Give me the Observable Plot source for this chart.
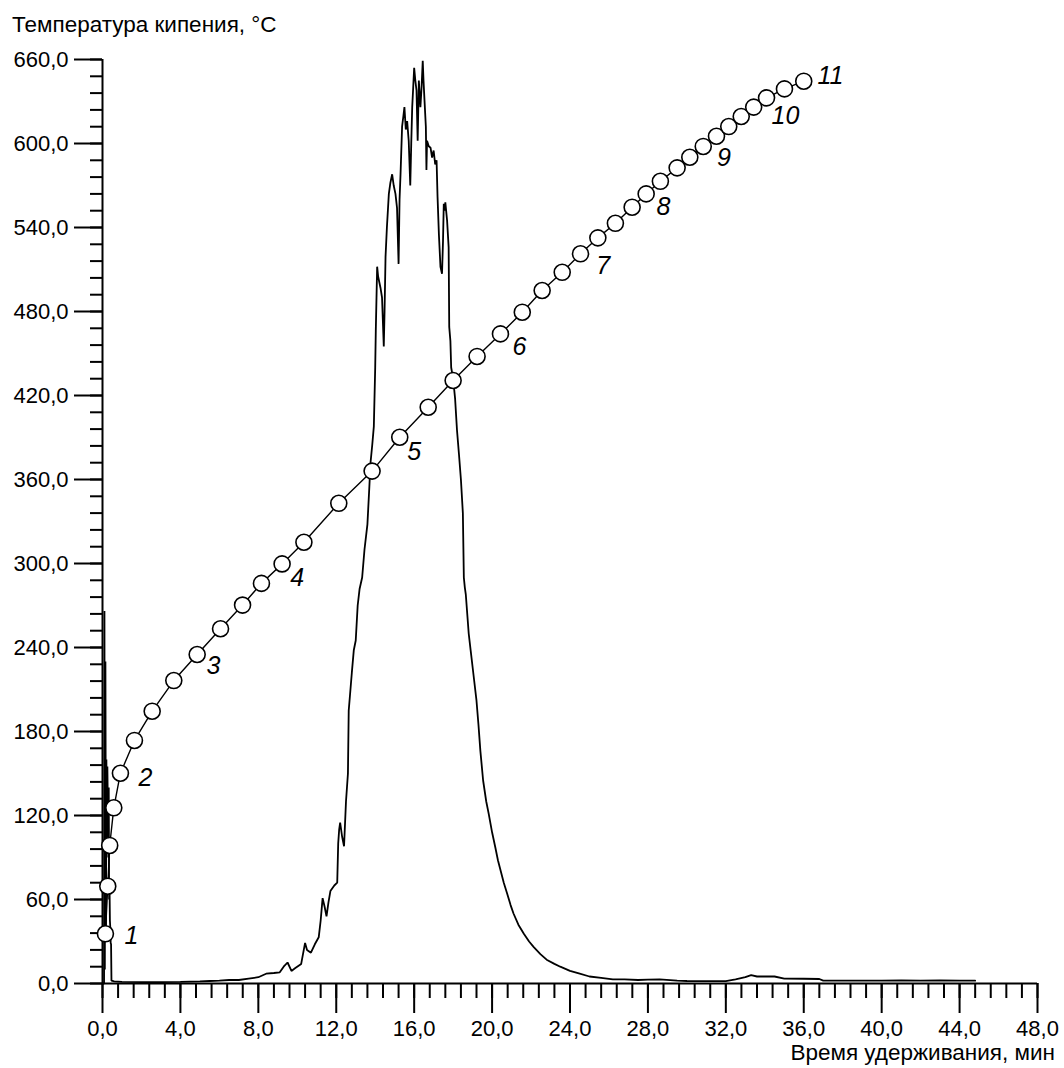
<!DOCTYPE html>
<html>
<head>
<meta charset="utf-8">
<script src="https://cdn.jsdelivr.net/npm/d3@7"></script>
<script src="https://cdn.jsdelivr.net/npm/@observablehq/plot@0.6"></script>
<style>
  html, body { margin: 0; padding: 0; background: #fff; overflow: hidden; }
  #wrap { position: relative; width: 1064px; height: 1068px; font-family: "Liberation Sans", Arial, sans-serif; color: #000; }
  #ytitle { position: absolute; left: 12px; top: 12px; font-size: 22.5px; white-space: nowrap; }
  #xtitle { position: absolute; right: 9px; top: 1040px; font-size: 22.5px; white-space: nowrap; }
  #chart { position: absolute; left: 0; top: 0; }
</style>
</head>
<body>
<div id="wrap">
  <div id="chart"></div>
  <div id="ytitle">Температура кипения, °C</div>
  <div id="xtitle">Время удерживания, мин</div>
</div>
<script>
// Tick labels
const xMajorTicks = [0, 4, 8, 12, 16, 20, 24, 28, 32, 36, 40, 44, 48];
const yMajorTicks = [0, 60, 120, 180, 240, 300, 360, 420, 480, 540, 600, 660];

// Boiling-point calibration curve (retention time, min ; boiling temperature, °C)
const curveTime = [0.15, 0.27, 0.37, 0.58, 0.92, 1.64, 2.55, 3.66, 4.86, 6.06, 7.19,
  8.16, 9.22, 10.34, 12.13, 13.84, 15.26, 16.72, 18.0, 19.23, 20.43, 21.55, 22.57,
  23.6, 24.54, 25.43, 26.33, 27.19, 27.91, 28.64, 29.5, 30.15, 30.84, 31.52, 32.15,
  32.79, 33.43, 34.09, 35.01, 36.0];
const curveTemp = [35.5, 69.5, 98.6, 125.5, 150.2, 173.6, 194.5, 216.4, 235, 253.4, 270.3,
  285.8, 299.7, 315.2, 343, 366, 390.2, 411.6, 430.7, 447.9, 464, 479.5, 495,
  508, 521.2, 532.6, 543, 554.5, 564, 573, 582.6, 590.2, 597.9, 605.2, 612.1,
  619.3, 626, 632.6, 639, 644.5];

// Fraction numbers
const labelText = ["1", "2", "3", "4", "5", "6", "7", "8", "9", "10", "11"];
const labelTime = [1.49, 2.21, 5.7, 10.0, 16.0, 21.4, 25.7, 28.8, 31.9, 35.06, 37.37];
const labelTemp = [34.2, 147, 227, 290, 379.6, 455, 512.3, 555, 589.6, 619.3, 647.9];

// Chromatogram trace (retention time, min ; detector signal on the same scale)
const chromTime = [0, 0.08, 0.1, 0.12, 0.15, 0.18, 0.2, 0.22, 0.25, 0.28, 0.3, 0.32, 0.34,
  0.36, 0.38, 0.4, 0.42, 0.44, 0.46, 0.6, 1, 2, 3, 4, 5, 5.5, 6, 6.5, 7, 7.5, 8, 8.4,
  8.8, 9.1, 9.3, 9.5, 9.7, 9.9, 10.2, 10.4, 10.5, 10.7, 10.9, 11.1, 11.2, 11.3, 11.4,
  11.5, 11.6, 11.7, 11.9, 12.05, 12.1, 12.15, 12.2, 12.3, 12.4, 12.5, 12.6, 12.64, 12.7,
  12.8, 12.9, 13.0, 13.1, 13.2, 13.33, 13.45, 13.6, 13.7, 13.76, 13.85, 13.93, 14.0, 14.03,
  14.1, 14.15, 14.27, 14.35, 14.44, 14.48, 14.53, 14.6, 14.7, 14.78, 14.87, 14.95,
  15.04, 15.12, 15.2, 15.25, 15.3, 15.38, 15.45, 15.5, 15.57, 15.64, 15.72, 15.8,
  15.85, 15.9, 15.95, 16.0, 16.06, 16.12, 16.18, 16.24, 16.32, 16.38, 16.44, 16.48,
  16.53, 16.6, 16.63, 16.66, 16.75, 16.84, 16.92, 17.0, 17.08, 17.15, 17.2, 17.27,
  17.35, 17.43, 17.48, 17.52, 17.56, 17.6, 17.69, 17.77, 17.8, 17.86, 17.9, 18.0,
  18.1, 18.2, 18.3, 18.4, 18.5, 18.55, 18.6, 18.65, 18.8, 18.9, 19.05, 19.2, 19.3,
  19.4, 19.54, 19.7, 19.83, 20.0, 20.17, 20.3, 20.43, 20.6, 20.78, 20.95, 21.1, 21.35,
  21.63, 21.9, 22.14, 22.48, 22.8, 23.2, 23.5, 24, 24.5, 25, 25.6, 26.2, 26.8, 27.5,
  28, 28.6, 29.5, 30, 31, 32, 32.5, 33, 33.3, 33.6, 34.5, 35, 36, 36.8, 37, 38, 40,
  41, 42, 43, 44, 44.8];
const chromSignal = [0, 0, 266, 10, 230, 40, 160, 100, 155, 120, 90, 140, 60,
  70, 45, 40, 29, 28, 2, 1.5, 1.2, 1, 1, 1.2, 1.5, 1.8, 2, 2.5, 2.5, 3.5, 4.5, 7,
  7.5, 8, 12, 15, 9, 11, 14, 29, 24, 22, 28, 33, 45, 61, 55,
  48, 58, 66, 70, 72, 100, 110, 115, 105, 98, 130, 150, 195, 205,
  222, 238, 245, 270, 282, 290, 310, 328, 355, 372, 385, 398, 440, 466,
  512, 505, 497, 490, 455, 480, 519, 540, 564, 572, 578, 570,
  564, 554, 514, 560, 578, 612, 620, 626, 610, 616, 602, 570,
  600, 626, 640, 654, 645, 638, 602, 645, 626, 640, 659, 645,
  631, 612, 581, 602, 598, 597, 590, 595, 585, 588, 562, 535,
  512, 507, 530, 557, 552, 558, 545, 526, 469, 459, 440, 432,
  418, 395, 378, 360, 336, 290, 283, 278, 250, 238, 220, 202, 185,
  166, 145, 130, 121, 108, 97, 88, 81, 72, 64, 56, 50, 42,
  35.5, 30, 26, 21, 17, 14, 12, 9, 7, 5, 4, 3, 3, 2.5,
  2.8, 3, 2, 1.8, 1.7, 1.7, 3, 4.5, 6, 5, 5, 3.5, 3.4, 3.2, 2, 2, 2,
  2.2, 2, 2.2, 2, 2];

const chrom = chromTime.map((t, i) => ({t, s: chromSignal[i]}));
const curve = curveTime.map((t, i) => ({t, T: curveTemp[i]}));
const labels = labelText.map((txt, i) => ({txt, t: labelTime[i], T: labelTemp[i]}));

const xMinorTicks = d3.range(0, 61).map(i => +(i * 0.8).toFixed(2));
const yMinorTicks = d3.range(0, 56).map(i => i * 12);
const fmt = d => d.toFixed(1).replace(".", ",");

const chart = Plot.plot({
  width: 1064,
  height: 1068,
  marginLeft: 102,
  marginRight: 27,
  marginTop: 59,
  marginBottom: 85,
  style: {background: "white", fontFamily: "'Liberation Sans', Arial, sans-serif", fontSize: "22px", color: "black"},
  x: {domain: [0, 48]},
  y: {domain: [0, 660]},
  marks: [
    Plot.axisX({ticks: xMinorTicks, tickSize: 15, tickFormat: () => "", strokeWidth: 2, label: null}),
    Plot.axisX({ticks: xMajorTicks, tickSize: 30, tickPadding: 7, tickFormat: fmt, strokeWidth: 2, fontSize: 22, label: null}),
    Plot.axisY({ticks: yMinorTicks, tickSize: 12, tickFormat: () => "", strokeWidth: 2, label: null}),
    Plot.axisY({ticks: yMajorTicks, tickSize: 28, tickPadding: 6, tickFormat: fmt, strokeWidth: 2, fontSize: 22, label: null}),
    Plot.ruleX([0], {stroke: "black", strokeWidth: 2}),
    Plot.ruleY([0], {stroke: "black", strokeWidth: 2}),
    Plot.line(chrom, {x: "t", y: "s", stroke: "black", strokeWidth: 1.8, strokeLinejoin: "miter"}),
    Plot.line(curve, {x: "t", y: "T", stroke: "black", strokeWidth: 1.4}),
    Plot.dot(curve, {x: "t", y: "T", r: 8, fill: "white", stroke: "black", strokeWidth: 1.6}),
    Plot.text(labels, {x: "t", y: "T", text: "txt", fontSize: 25, fontStyle: "italic", fill: "black"})
  ]
});
document.getElementById("chart").appendChild(chart);
</script>
</body>
</html>
